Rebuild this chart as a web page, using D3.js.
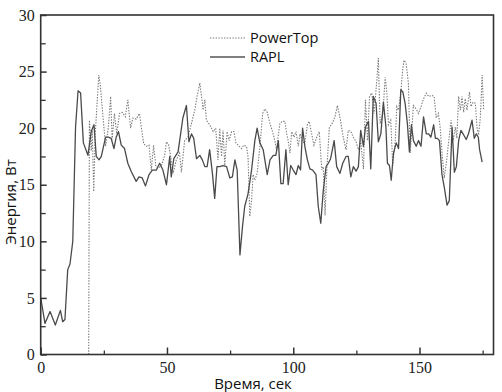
<!DOCTYPE html>
<html>
<head>
<meta charset="utf-8">
<script src="https://cdn.jsdelivr.net/npm/d3@7"></script>
<style>
  html, body { margin: 0; padding: 0; background: #fff; }
  svg { display: block; }
</style>
</head>
<body>
<svg id="chart" width="502" height="392"></svg>
<script>
// ---- data ----
const raplTime = [0,1.7,3.7,5.8,7.8,8.7,9.6,10.7,11.6,12.7,13.8,14.8,15.8,16.9,18.7,20.0,21.1,22.0,23.1,24.0,25.7,26.8,27.9,29.0,29.9,30.8,31.9,33.2,34.5,35.8,37.8,38.9,40.2,41.5,42.9,44.2,45.8,47.1,48.4,49.8,51.1,51.7,52.7,54.4,56.3,57.7,58.7,59.7,60.6,61.7,63.0,64.0,65.0,65.9,66.9,68.0,68.9,69.8,70.9,72.2,73.6,74.9,75.9,76.9,77.8,78.9,79.9,80.8,82.1,83.5,84.8,85.7,86.8,88.1,89.7,90.8,92.1,93.1,94.1,95.1,96.0,97.1,98.0,99.0,100.0,101.1,102.0,102.9,103.7,104.6,105.6,106.6,107.7,109.0,109.9,110.9,111.9,113.0,113.9,114.8,116.2,117.2,118.5,119.6,120.9,121.8,122.8,123.8,124.9,125.8,126.7,127.8,128.6,129.8,130.7,131.7,132.8,133.7,134.7,135.7,136.7,137.3,138.1,138.8,139.7,140.8,141.7,142.6,143.4,144.3,145.2,146.0,146.8,147.6,148.7,149.6,150.6,151.6,152.7,153.6,154.5,155.6,156.3,157.1,157.9,158.9,159.8,160.9,161.8,162.9,163.8,164.6,165.5,166.4,167.5,168.5,169.4,170.8,171.7,172.5,173.3,173.8,174.8];
const raplPower = [5.0,2.75,3.8,2.6,3.9,2.9,3.1,7.5,8.0,10.0,20.1,23.3,23.1,18.7,17.6,19.7,20.3,17.5,17.2,17.5,19.2,19.2,19.1,18.2,19.2,19.7,18.5,18.2,16.9,16.2,15.3,15.7,15.6,14.9,15.9,16.3,16.3,16.9,16.3,15.0,17.5,15.7,17.3,17.9,20.9,22.0,18.8,19.5,19.1,17.3,17.6,17.2,16.6,16.6,18.1,16.0,13.8,16.6,16.6,16.7,16.6,15.6,15.7,17.2,16.3,8.8,11.3,13.1,14.2,16.3,18.9,20.0,18.7,18.1,15.9,17.2,17.6,17.6,18.9,15.1,15.1,18.1,15.0,16.7,16.3,15.9,16.7,16.3,20.0,18.4,17.2,16.4,16.3,15.9,13.1,11.6,14.5,16.6,16.9,17.3,18.9,16.6,16.0,16.9,17.5,17.5,15.7,16.6,16.2,16.6,19.8,18.4,20.1,20.6,16.4,22.8,22.2,18.8,19.5,22.3,20.1,16.9,16.7,15.4,17.8,18.7,18.2,23.4,23.2,22.2,20.4,17.9,20.3,18.9,18.4,18.9,18.4,21.0,19.5,19.5,19.2,20.3,19.1,19.1,18.9,15.9,14.8,13.2,13.6,20.1,16.1,16.6,18.9,19.8,19.4,19.0,19.5,20.7,19.1,19.5,19.2,18.1,17.0];

const powertopTime = [19.0,19.3,20.0,20.4,21.0,21.6,23.0,23.6,24.9,25.7,26.8,27.7,28.3,29.2,30.1,31.2,32.3,33.5,34.5,35.6,36.5,37.8,39.1,40.2,40.8,41.9,42.9,43.8,44.7,45.6,46.9,48.0,49.1,49.8,50.6,51.4,52.4,53.7,55.0,55.7,57.0,58.3,59.7,61.0,61.9,63.0,63.7,64.3,65.0,65.6,66.9,68.3,69.3,70.2,70.9,71.6,72.2,72.9,73.8,74.6,75.6,76.5,77.3,78.2,79.5,80.4,81.5,82.1,82.8,83.5,84.1,84.8,85.7,86.8,87.9,88.8,89.7,90.8,91.8,92.7,93.4,94.0,94.7,95.6,96.7,97.4,98.0,98.7,99.4,100.3,101.1,102.0,102.7,103.7,104.6,105.6,106.3,107.3,108.2,109.3,110.3,111.3,111.9,112.6,113.3,114.3,115.2,116.5,117.5,118.7,119.8,120.9,121.8,122.8,123.8,124.9,125.8,126.7,127.8,128.6,129.4,130.2,131.1,132.0,133.1,133.7,134.4,135.5,136.4,137.1,137.7,138.6,139.4,140.4,141.0,141.7,142.6,143.4,143.9,144.7,145.6,146.3,147.0,147.6,148.7,149.6,150.6,151.6,152.7,153.6,154.9,155.8,156.6,157.5,158.2,159.0,159.8,160.6,161.5,162.5,163.3,164.2,164.8,165.5,166.2,166.8,167.5,168.1,168.8,169.8,170.4,171.2,172.1,172.8,173.4,174.1,174.8,175.4];
const powertopPower = [0,20.7,18.0,19.8,14.4,19.5,24.7,23.8,20.4,18.4,20.1,22.8,19.0,21.3,19.5,21.3,21.4,21.0,22.5,20.0,20.9,20.8,21.3,19.5,18.6,18.4,18.5,16.3,18.5,16.6,16.5,16.8,17.6,18.8,18.6,17.6,16.0,17.2,17.8,16.1,18.9,19.2,20.4,21.6,22.8,24.0,22.8,21.6,22.5,20.7,20.3,19.7,20.0,17.2,20.0,17.5,19.8,16.7,19.7,18.9,19.7,19.7,18.7,18.5,18.2,18.5,18.4,17.5,12.2,13.6,15.9,15.4,16.0,18.4,21.3,21.7,21.4,20.4,19.7,18.9,18.1,19.2,20.4,20.6,20.6,19.5,18.9,17.8,19.7,19.2,19.7,18.4,19.5,18.8,18.7,20.3,20.6,19.5,18.5,19.2,19.7,16.3,16.6,12.3,16.3,20.1,20.3,21.0,22.0,20.7,19.2,18.1,19.8,19.7,19.2,18.8,18.1,18.9,16.4,22.5,18.9,22.8,23.1,21.3,24.2,26.2,20.4,21.3,24.5,23.1,20.3,20.7,16.7,18.9,21.9,21.6,23.2,25.3,26.0,25.7,24.0,17.8,20.1,22.0,21.7,21.3,21.9,22.6,23.1,22.8,22.9,22.8,20.9,21.3,20.0,17.6,15.6,16.9,18.7,20.7,18.9,20.1,19.1,22.8,21.6,22.8,21.4,22.6,21.6,23.2,21.9,22.3,22.2,20.0,19.4,21.0,24.7,21.6];

const seriesNames = ["PowerTop", "RAPL"];
const xTickValues = [0, 50, 100, 150];
const xMinorTicks = [25, 75, 125, 175];
const yTickValues = [0, 5, 10, 15, 20, 25, 30];
const yMinorTicks = [2.5, 7.5, 12.5, 17.5, 22.5, 27.5];
const xTitle = "Время, сек";
const yTitle = "Энергия, Вт";
const xDomain = [0, 179.3];
const yDomain = [0, 30];

// ---- drawing ----
const svg = d3.select("#chart");
const L = 40.7, R = 493.5, T = 15, B = 354.5;
const x = d3.scaleLinear().domain(xDomain).range([L, R]);
const y = d3.scaleLinear().domain(yDomain).range([B, T]);

const raplData = raplTime.map((t, i) => [t, raplPower[i]]);
const ptData = powertopTime.map((t, i) => [t, powertopPower[i]]);
const line = d3.line().x(d => x(d[0])).y(d => y(d[1]));

svg.append("clipPath").attr("id", "clip")
  .append("rect").attr("x", L).attr("y", T).attr("width", R - L).attr("height", B - T);

const g = svg.append("g").attr("clip-path", "url(#clip)");
g.append("path").datum(ptData).attr("d", line)
  .attr("fill", "none").attr("stroke", "#7a7a7a").attr("stroke-width", 1.1)
  .attr("stroke-dasharray", "1.4,1.4");
g.append("path").datum(raplData).attr("d", line)
  .attr("fill", "none").attr("stroke", "#4a4a4a").attr("stroke-width", 1.3)
  .attr("stroke-linejoin", "round");

// frame
svg.append("rect").attr("x", L).attr("y", T).attr("width", R - L).attr("height", B - T)
  .attr("fill", "none").attr("stroke", "#333").attr("stroke-width", 1.6);

// axes (ticks pointing inward)
const xAxis = d3.axisBottom(x).tickValues(xTickValues).tickSize(-7).tickPadding(7).tickFormat(d3.format("d"));
const xAx = svg.append("g").attr("transform", `translate(0,${B})`).call(xAxis);
xAx.select(".domain").remove();
xAx.selectAll(".tick line").attr("stroke", "#333").attr("stroke-width", 1.5);
xAx.selectAll(".tick text").attr("font-family", "'Liberation Serif', 'Times New Roman', serif")
  .attr("font-size", 16).attr("fill", "#222");

const xMinor = d3.axisBottom(x).tickValues(xMinorTicks).tickSize(-4).tickFormat("");
const xm = svg.append("g").attr("transform", `translate(0,${B})`).call(xMinor);
xm.select(".domain").remove();
xm.selectAll(".tick line").attr("stroke", "#333").attr("stroke-width", 1.3);

const yAxis = d3.axisLeft(y).tickValues(yTickValues).tickSize(-6).tickPadding(6).tickFormat(d3.format("d"));
const yAx = svg.append("g").attr("transform", `translate(${L},0)`).call(yAxis);
yAx.select(".domain").remove();
yAx.selectAll(".tick line").attr("stroke", "#333").attr("stroke-width", 1.5);
yAx.selectAll(".tick text").attr("font-family", "'Liberation Serif', 'Times New Roman', serif")
  .attr("font-size", 16).attr("fill", "#222");

const yMinor = d3.axisLeft(y).tickValues(yMinorTicks).tickSize(-5).tickFormat("");
const ym = svg.append("g").attr("transform", `translate(${L},0)`).call(yMinor);
ym.select(".domain").remove();
ym.selectAll(".tick line").attr("stroke", "#333").attr("stroke-width", 1.3);

// titles
svg.append("text").attr("x", 253).attr("y", 389).attr("text-anchor", "middle")
  .attr("font-family", "'Open Sans', 'Noto Sans', sans-serif").attr("font-size", 15)
  .attr("fill", "#111").text(xTitle);
svg.append("text").attr("transform", "translate(16,202) rotate(-90)").attr("text-anchor", "middle")
  .attr("font-family", "'Open Sans', 'Noto Sans', sans-serif").attr("font-size", 15)
  .attr("fill", "#111").text(yTitle);

// legend
const legend = svg.append("g");
const legendRows = [
  { name: seriesNames[0], dash: "1.4,1.4", color: "#7a7a7a", yLine: 38, yText: 43 },
  { name: seriesNames[1], dash: null, color: "#555", yLine: 57, yText: 62 }
];
legendRows.forEach(r => {
  legend.append("line").attr("x1", 210).attr("x2", 245).attr("y1", r.yLine).attr("y2", r.yLine)
    .attr("stroke", r.color).attr("stroke-width", r.dash ? 1.1 : 1.4)
    .attr("stroke-dasharray", r.dash);
  legend.append("text").attr("x", 250).attr("y", r.yText)
    .attr("font-family", "'Open Sans', 'Noto Sans', sans-serif").attr("font-size", 14.5)
    .attr("fill", "#111").text(r.name);
});
</script>
</body>
</html>
